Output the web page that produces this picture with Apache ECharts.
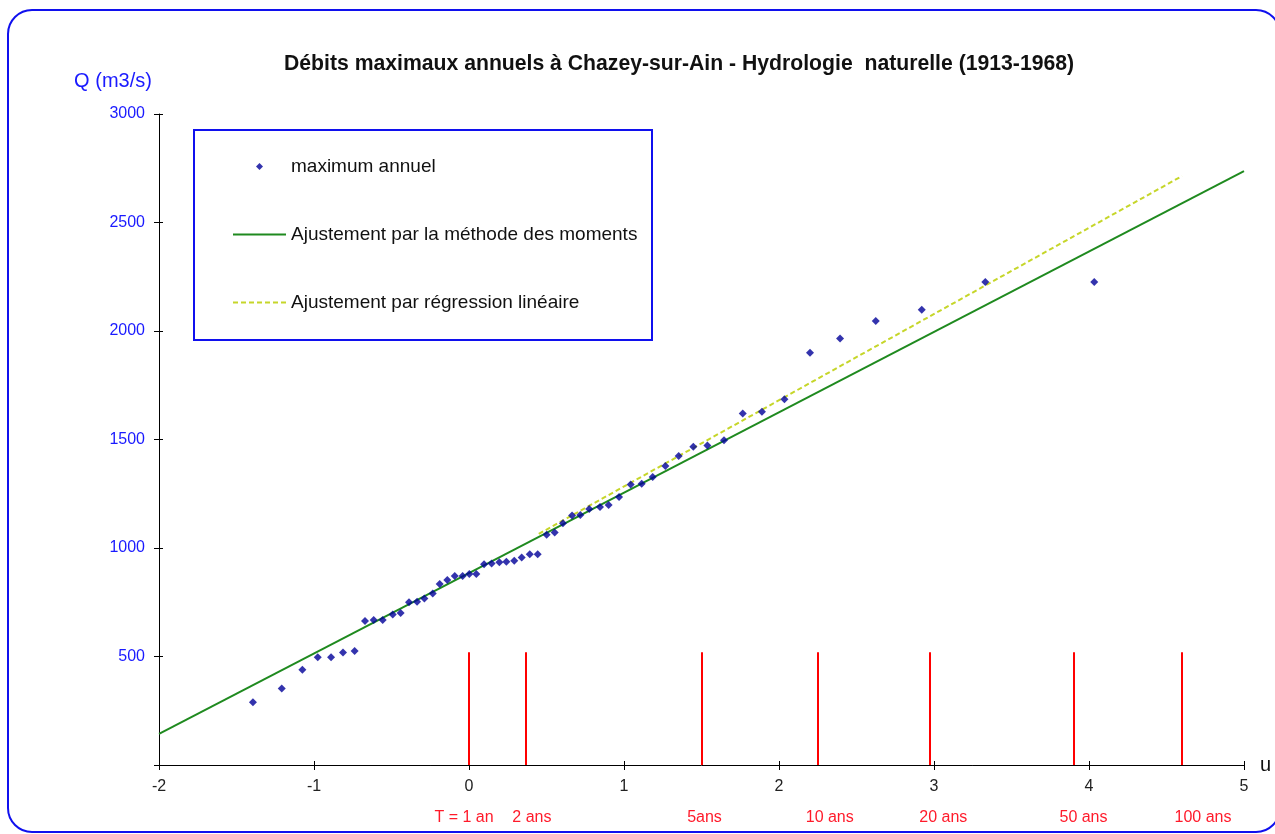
<!DOCTYPE html>
<html>
<head>
<meta charset="utf-8">
<script src="https://cdn.jsdelivr.net/npm/echarts@6/dist/echarts.min.js"></script>
<style>
  html, body { margin: 0; padding: 0; background: #fff; }
  #chart { width: 1275px; height: 834px; }
</style>
</head>
<body>
<div id="chart"></div>
<script>
// variable réduite de Gumbel (u) et débit max annuel (m3/s)
const uMax = [
  -1.394, -1.208, -1.075, -0.976, -0.890, -0.813, -0.738, -0.671, -0.615, -0.557,
  -0.492, -0.441, -0.387, -0.335, -0.288, -0.234, -0.189, -0.140, -0.092, -0.041,
  0.002, 0.047, 0.097, 0.146, 0.196, 0.241, 0.292, 0.340, 0.392, 0.443,
  0.501, 0.553, 0.606, 0.665, 0.718, 0.776, 0.845, 0.901, 0.968, 1.043,
  1.114, 1.185, 1.267, 1.353, 1.447, 1.538, 1.645, 1.766, 1.890, 2.035,
  2.200, 2.394, 2.624, 2.921, 3.331, 4.034
]
const qMax = [
  289, 353, 439, 496, 496, 519, 525, 664, 668, 668,
  693, 700, 750, 752, 767, 790, 834, 853, 871, 871,
  880, 880, 925, 928, 934, 937, 941, 956, 971, 971,
  1061, 1072, 1114, 1150, 1152, 1180, 1189, 1198, 1235, 1293,
  1296, 1327, 1378, 1424, 1467, 1472, 1496, 1620, 1628, 1685,
  1900, 1966, 2046, 2098, 2226, 2226
]
// droites d'ajustement (extrémités)
const momentsU = [-2, 5]
const momentsQ = [143, 2737]
const regressionU = [0.45, 4.6]
const regressionQ = [1065, 2714]
// périodes de retour
const periodU = [0, 0.367, 1.5, 2.25, 2.97, 3.9, 4.6]
const periodLabels = ['T = 1 an', '2 ans', '5ans', '10 ans', '20 ans', '50 ans', '100 ans']
const periodShift = [-5, 6, 3, 12, 14, 10, 21]
const periodHeight = 520

const myChart = echarts.init(document.getElementById('chart'))

const periodLines = periodU.map((u, i) => {
  const s = periodShift[i]
  return [
    {
      coord: [u, 0],
      label: {
        formatter: periodLabels[i],
        padding: s > 0 ? [0, 0, 0, 2 * s] : [0, -2 * s, 0, 0]
      }
    },
    { coord: [u, periodHeight] }
  ]
})

myChart.setOption({
  backgroundColor: '#fff',
  animation: false,
  title: {
    text: 'Débits maximaux annuels à Chazey-sur-Ain - Hydrologie  naturelle (1913-1968)',
    left: 279,
    top: 49,
    textStyle: {
      fontFamily: 'Liberation Sans',
      fontWeight: 'bold',
      fontSize: 21.2,
      color: '#111'
    }
  },
  grid: {
    left: 159,
    right: 31,
    top: 114,
    bottom: 69,
    containLabel: false
  },
  legend: {
    orient: 'vertical',
    left: 232,
    top: 157,
    padding: 0,
    itemWidth: 53,
    itemHeight: 7,
    itemGap: 49,
    symbolKeepAspect: true,
    textStyle: {
      fontFamily: 'Liberation Sans',
      fontSize: 19,
      color: '#111'
    },
    data: [
      { name: 'maximum annuel', icon: 'path://M0,-1L1,0L0,1L-1,0Z' },
      { name: 'Ajustement par la méthode des moments', itemStyle: { opacity: 0 } },
      { name: 'Ajustement par régression linéaire', itemStyle: { opacity: 0 } }
    ]
  },
  graphic: [
    {
      type: 'rect',
      z: -10,
      shape: { x: 8, y: 10, width: 1272, height: 822, r: 24 },
      style: { fill: '#fff', stroke: '#1010ee', lineWidth: 2 }
    },
    {
      type: 'rect',
      z: -5,
      shape: { x: 194, y: 130, width: 458, height: 210 },
      style: { fill: '#fff', stroke: '#1010ee', lineWidth: 2 }
    }
  ],
  xAxis: [
    {
      type: 'value',
      min: -2,
      max: 5,
      interval: 1,
      name: 'u',
      nameLocation: 'end',
      nameGap: 16,
      nameTextStyle: {
        fontFamily: 'Liberation Sans',
        fontSize: 20,
        color: '#111'
      },
      axisLine: { show: true, onZero: false, lineStyle: { color: '#000', width: 1 } },
      axisTick: { show: true, inside: false, length: 5, lineStyle: { color: '#000' } },
      axisLabel: {
        margin: 14,
        fontFamily: 'Liberation Sans',
        fontSize: 16,
        color: '#222'
      },
      splitLine: { show: false }
    },
    {
      type: 'value',
      position: 'bottom',
      min: -2,
      max: 5,
      interval: 1,
      axisLine: { show: false },
      axisTick: { show: true, inside: true, length: 4, lineStyle: { color: '#000' } },
      axisLabel: { show: false },
      splitLine: { show: false }
    }
  ],
  yAxis: [
    {
      type: 'value',
      min: 0,
      max: 3000,
      interval: 500,
      name: 'Q (m3/s)',
      nameLocation: 'end',
      nameGap: 23,
      nameTextStyle: {
        fontFamily: 'Liberation Sans',
        fontSize: 20,
        color: '#1a1aff',
        align: 'center',
        padding: [0, 92, 0, 0]
      },
      axisLine: { show: true, onZero: false, lineStyle: { color: '#000', width: 1 } },
      axisTick: { show: true, inside: false, length: 5, lineStyle: { color: '#000' } },
      axisLabel: {
        margin: 14,
        fontFamily: 'Liberation Sans',
        fontSize: 16,
        color: '#1a1aff',
        formatter: (v) => (v === 0 ? '' : v)
      },
      splitLine: { show: false }
    },
    {
      type: 'value',
      position: 'left',
      min: 0,
      max: 3000,
      interval: 500,
      axisLine: { show: false, onZero: false },
      axisTick: { show: true, inside: true, length: 4, lineStyle: { color: '#000' } },
      axisLabel: { show: false },
      splitLine: { show: false }
    }
  ],
  series: [
    {
      name: 'Ajustement par la méthode des moments',
      type: 'line',
      showSymbol: false,
      symbol: 'none',
      z: 2,
      lineStyle: { color: '#1f8a1f', width: 2 },
      itemStyle: { color: '#1f8a1f' },
      data: momentsU.map((u, i) => [u, momentsQ[i]]),
      markLine: {
        silent: true,
        symbol: 'none',
        lineStyle: { color: '#ff0000', width: 2, type: 'solid' },
        label: {
          show: true,
          position: 'start',
          distance: 45,
          fontFamily: 'Liberation Sans',
          fontSize: 16,
          color: '#ff1a2a'
        },
        data: periodLines
      }
    },
    {
      name: 'Ajustement par régression linéaire',
      type: 'line',
      showSymbol: false,
      symbol: 'none',
      z: 3,
      lineStyle: { color: '#c6d62a', width: 2, type: [5, 3] },
      itemStyle: { color: '#c6d62a' },
      data: regressionU.map((u, i) => [u, regressionQ[i]])
    },
    {
      name: 'maximum annuel',
      type: 'scatter',
      symbol: 'diamond',
      symbolSize: 8,
      z: 4,
      itemStyle: { color: '#000099' },
      data: uMax.map((u, i) => [u, qMax[i]])
    }
  ]
})
</script>
</body>
</html>
